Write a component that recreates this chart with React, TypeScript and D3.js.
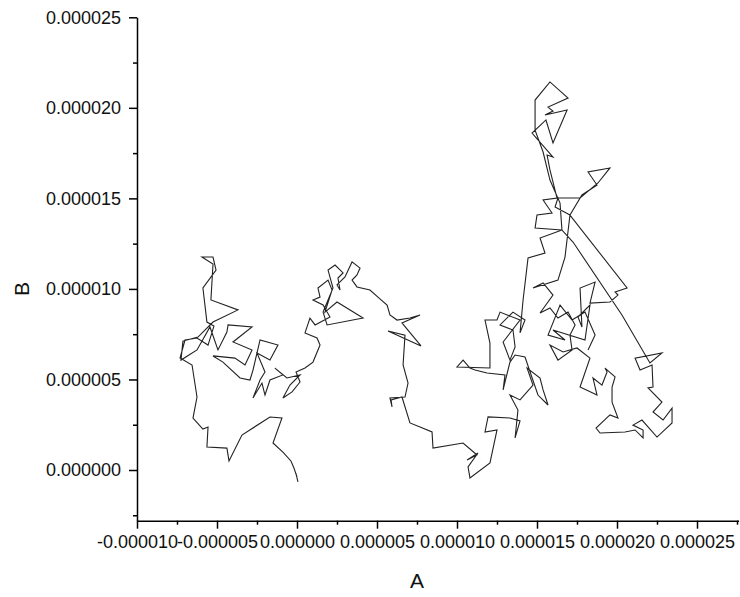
import React, { useEffect, useRef } from 'react';
import * as d3 from 'd3';

// walk samples in units of 1e-6, [A, B]
const leftBowl: [number, number][] = [
  [0.06, -0.66], [-0.06, -0.22], [0, -0.39], [-0.19, 0.11], [-0.38, 0.5], [-0.88, 0.99], [-1.5, 1.49],
  [-0.94, 2.87], [-1.69, 2.93], [-3.44, 1.93], [-4.25, 0.5], [-4.38, 1.21], [-5.63, 1.27], [-5.56, 2.37],
  [-5.88, 2.26], [-6.5, 2.87], [-6.25, 4.03], [-6.56, 5.8],
];

const leftCluster: [number, number][] = [
  [-7.31, 6.18], [-7.0, 7.18], [-6.25, 7.29], [-5.56, 6.9], [-5.19, 7.95], [-5.63, 8.17], [-5.88, 10.05],
  [-5.06, 11.04], [-5.25, 11.76], [-5.94, 11.76], [-5.25, 11.38], [-5.38, 9.39], [-3.69, 8.84], [-5.25, 8.17],
  [-6.19, 7.34], [-7.13, 7.12], [-7.25, 6.07], [-6.25, 6.63], [-5.44, 7.9], [-4.94, 6.63], [-4.38, 7.62],
  [-4.31, 8.01], [-2.81, 7.9], [-4.0, 7.07], [-2.81, 6.63], [-3.25, 5.8], [-3.88, 6.18], [-5.25, 6.3],
  [-4.63, 5.96], [-3.56, 5.08], [-2.94, 4.97], [-2.75, 5.52], [-2.31, 7.18], [-1.19, 6.9], [-1.69, 6.07],
  [-2.5, 6.46], [-2.0, 5.41], [-2.31, 4.97], [-2.75, 3.98], [-2.19, 4.8], [-2.0, 4.14], [-1.69, 4.97],
  [-0.88, 5.25], [-1.38, 5.63], [-0.63, 5.08], [0.19, 5.25], [-0.44, 4.69], [-0.88, 3.98], [-0.31, 4.31],
  [0.19, 4.86], [-0.06, 5.41], [0.5, 5.63],
];

const middleCluster: [number, number][] = [
  [1.0, 5.96], [1.44, 6.9], [1.25, 7.29], [0.5, 7.57], [0.81, 8.39], [1.13, 8.01], [2.06, 8.45], [1.63, 9.11],
  [1.0, 9.39], [1.44, 9.55], [1.31, 10.05], [1.94, 10.49], [2.19, 9.94], [1.75, 8.72], [2.5, 9.28], [4.13, 8.39],
  [1.88, 8.01], [1.63, 8.72], [2.25, 10.05], [1.94, 11.04], [2.38, 11.32], [2.88, 10.88], [2.56, 10.6],
  [2.69, 9.94], [2.5, 10.22], [3.0, 10.66], [3.44, 11.49], [3.94, 11.15], [3.75, 10.77], [3.44, 10.49],
  [3.75, 10.11], [4.56, 9.94], [5.06, 9.55], [5.63, 9.11], [5.81, 8.56], [6.25, 8.28], [7.06, 8.39],
  [7.69, 8.56], [6.56, 8.12], [7.75, 6.85], [5.69, 7.68], [6.75, 7.45],
];

const valleyDescent: [number, number][] = [
  [6.63, 5.8], [6.94, 4.8], [6.75, 4.03], [5.81, 3.98], [5.94, 3.48], [5.88, 3.87], [6.56, 4.03], [7.06, 2.6],
  [7.69, 2.37], [8.44, 2.1], [8.5, 1.21], [10.38, 1.49], [11.25, 0.83], [10.63, 0.55], [11.31, 0.94],
  [10.69, 0.17], [10.81, -0.44], [12.06, 0.39], [12.5, 2.21], [11.75, 2.1], [11.94, 2.93], [13.31, 2.87],
  [13.94, 2.71], [13.63, 1.77], [13.81, 3.31],
];

const rightLower: [number, number][] = [
  [13.31, 4.14], [13.94, 3.87], [14.75, 4.69], [14.38, 5.63], [15.19, 5.08], [15.38, 4.42], [15.69, 3.59],
  [15.06, 4.14], [14.25, 6.24], [13.63, 6.35], [13.31, 5.96], [12.88, 4.42], [13.0, 5.25], [11.88, 5.36],
  [11.13, 5.52], [10.81, 5.63], [10.38, 6.07], [10.0, 5.69], [12.06, 5.63], [12.06, 7.01], [11.75, 8.28],
  [12.5, 8.28], [12.69, 8.72], [13.94, 8.28], [12.88, 7.07], [13.31, 6.07], [13.63, 6.79], [13.5, 7.73],
  [12.69, 8.01], [13.5, 8.72], [14.25, 8.28], [13.94, 7.57], [14.13, 9.39],
];

const rightPeak: [number, number][] = [
  [14.44, 11.71], [15.5, 11.98], [15.19, 12.81], [16.56, 13.25], [14.88, 13.36], [15.0, 14.08], [15.94, 14.19],
  [15.38, 14.91], [16.31, 15.02], [16.13, 14.52], [17.06, 14.08], [17.81, 15.19], [18.75, 15.74], [18.19, 16.46],
  [19.56, 16.68], [18.81, 15.85], [17.69, 15.02], [16.25, 15.02], [15.81, 16.57], [15.63, 17.39], [16.0, 17.28],
  [14.69, 18.61], [15.56, 19.33], [16.0, 18.06], [16.88, 19.88], [15.5, 19.6], [16.0, 19.82], [15.69, 20.04],
  [16.94, 20.54], [15.81, 21.43], [14.88, 20.43], [14.88, 18.77], [15.38, 17.56], [15.81, 16.01], [16.44, 14.74],
  [16.56, 13.25], [17.25, 12.59],
];

const rightEdge: [number, number][] = [
  [20.31, 8.56], [22.06, 5.91], [22.81, 6.46], [21.13, 6.18], [21.44, 5.52], [22.19, 5.8], [22.25, 4.58],
  [21.94, 4.53], [22.81, 3.75], [22.25, 3.2], [22.88, 2.76], [23.44, 3.42], [23.44, 2.6], [22.5, 1.82],
  [21.56, 2.76], [21.0, 2.48], [21.63, 2.21], [21.63, 1.77], [21.13, 2.21], [20.5, 2.1], [18.94, 2.04],
  [18.69, 2.32], [19.56, 3.04], [20.06, 2.87], [19.69, 3.75], [19.69, 4.58], [19.88, 5.14], [19.25, 5.63],
  [19.38, 5.41], [19.06, 4.69], [18.5, 5.08], [18.75, 4.14], [17.69, 4.58], [18.31, 6.18],
];

const rightCore: [number, number][] = [
  [17.5, 6.74], [16.63, 6.52], [15.81, 6.9], [16.31, 6.07], [17.19, 6.63], [17.06, 7.45], [17.38, 8.01],
  [16.94, 8.72], [16.31, 8.39], [15.81, 8.95], [15.19, 8.67], [16.0, 9.66], [15.38, 10.33], [14.75, 10.05],
  [16.31, 10.49], [16.75, 11.76], [17.06, 14.08], [20.63, 10.05], [19.88, 9.83], [20.06, 9.66], [19.56, 9.28],
  [18.31, 9.22], [18.63, 10.38], [17.69, 10.05], [17.81, 7.9], [17.56, 8.45], [18.31, 9.11], [18.0, 7.18],
  [16.0, 7.73], [16.75, 7.18], [15.69, 7.45], [16.44, 9.11], [17.19, 8.28], [18.0, 8.72], [18.63, 7.45],
  [18.19, 6.63],
];

const xTicks = [-10, -5, 0, 5, 10, 15, 20, 25];
const xMinor = [-7.5, -2.5, 2.5, 7.5, 12.5, 17.5, 22.5, 27.5];
const yTicks = [0, 5, 10, 15, 20, 25];
const yMinor = [-2.5, 2.5, 7.5, 12.5, 17.5, 22.5];
const xTitle = 'A';
const yTitle = 'B';

const FONT = '"Liberation Sans", Arial, sans-serif';

const App = () => {
  const svgRef = useRef<SVGSVGElement>(null);

  useEffect(() => {
    drawChart();
  }, []);

  const drawChart = () => {
    const svg = d3.select(svgRef.current);
    svg.selectAll('*').remove();

    const walk = [...leftBowl, ...leftCluster, ...middleCluster, ...valleyDescent,
      ...rightLower, ...rightPeak, ...rightEdge, ...rightCore];

    const x = d3.scaleLinear().domain([-10, 27.6]).range([137, 738.6]);
    const y = d3.scaleLinear().domain([-2.8, 25]).range([520.7, 17.3]);
    const fmt = (d: number) => (d * 1e-6).toFixed(6);

    // y axis
    const yAxis = svg.append('g').attr('transform', `translate(${x(-10)},0)`)
      .call(d3.axisLeft(y).tickValues(yTicks).tickSize(8).tickSizeOuter(0).tickPadding(8).tickFormat(fmt as any));
    svg.append('g').attr('transform', `translate(${x(-10)},0)`)
      .call(d3.axisLeft(y).tickValues(yMinor).tickSize(4).tickSizeOuter(0).tickFormat(() => ''))
      .select('.domain').remove();

    // x axis
    const xAxis = svg.append('g').attr('transform', `translate(0,${y(-2.8)})`)
      .call(d3.axisBottom(x).tickValues(xTicks).tickSize(8).tickSizeOuter(0).tickPadding(7).tickFormat(fmt as any));
    svg.append('g').attr('transform', `translate(0,${y(-2.8)})`)
      .call(d3.axisBottom(x).tickValues(xMinor).tickSize(4).tickSizeOuter(0).tickFormat(() => ''))
      .select('.domain').remove();

    [yAxis, xAxis].forEach(g => {
      g.selectAll('text').style('font-family', FONT).style('font-size', '18px').attr('fill', '#111');
    });
    svg.selectAll('.domain, .tick line').attr('stroke', '#000').attr('stroke-width', 1.5);

    svg.append('text')
      .attr('transform', `translate(29,${y(10)}) rotate(-90)`)
      .attr('text-anchor', 'middle')
      .style('font-family', FONT).style('font-size', '21px')
      .attr('fill', '#111')
      .text(yTitle);

    svg.append('text')
      .attr('x', x(7.5)).attr('y', 588)
      .attr('text-anchor', 'middle')
      .style('font-family', FONT).style('font-size', '21px')
      .attr('fill', '#111')
      .text(xTitle);

    const line = d3.line<[number, number]>()
      .x(d => x(d[0]))
      .y(d => y(d[1]));

    svg.append('path')
      .datum(walk)
      .attr('d', line)
      .attr('fill', 'none')
      .attr('stroke', '#222')
      .attr('stroke-width', 1.1)
      .attr('stroke-linejoin', 'miter');
  };

  return (
    <svg ref={svgRef} width={740} height={597}
      style={{ position: 'absolute', left: 0, top: 0, background: '#fff' }} />
  );
};

export default App;
